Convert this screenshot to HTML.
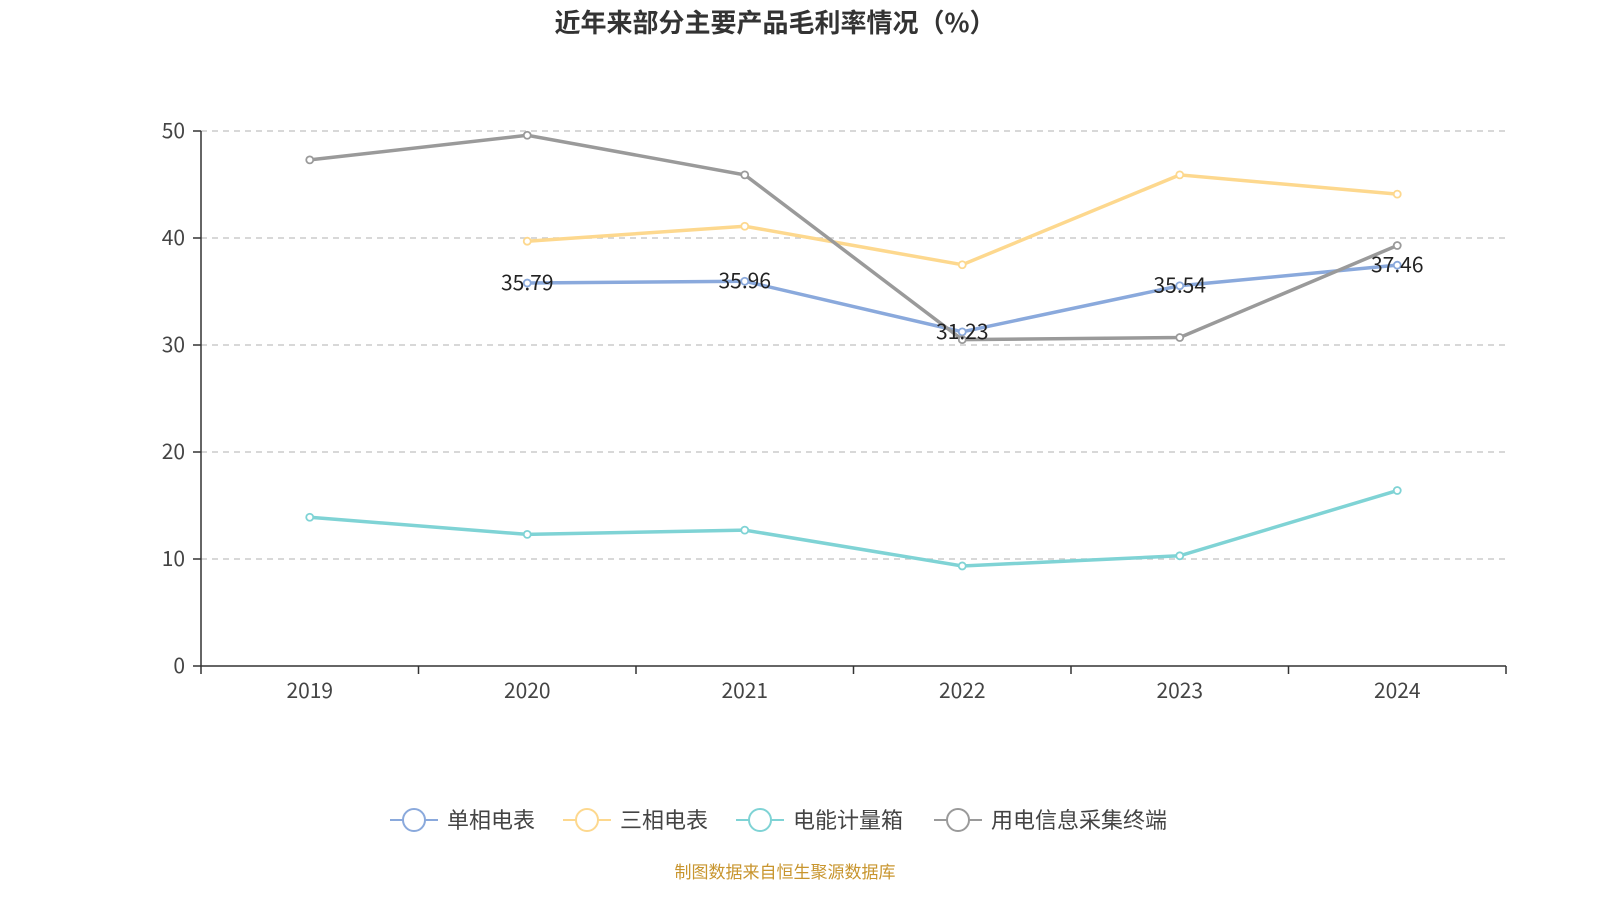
<!DOCTYPE html>
<html><head><meta charset="utf-8"><style>
html,body{margin:0;padding:0;background:#fff;}
svg text{font-family:"Noto Sans CJK SC","Liberation Sans",sans-serif;}
</style></head><body>
<svg width="1600" height="900" viewBox="0 0 1600 900">
<text x="775" y="32" text-anchor="middle" font-size="26" font-weight="bold" fill="#333">近年来部分主要产品毛利率情况（%）</text>
<g id="grid"></g><g id="axes"></g><g id="series"></g><g id="legend"></g>
<text x="785" y="878" text-anchor="middle" font-size="17" fill="#c8952e">制图数据来自恒生聚源数据库</text>
</svg>
<script>
const categories=["2019","2020","2021","2022","2023","2024"];
const yTicks=[0,10,20,30,40,50];
const seriesNames=["单相电表","三相电表","电能计量箱","用电信息采集终端"];
const singlePhase=[null,35.79,35.96,31.23,35.54,37.46];
const threePhase=[null,39.7,41.1,37.5,45.9,44.1];
const meterBox=[13.9,12.3,12.7,9.35,10.3,16.4];
const terminal=[47.3,49.6,45.9,30.5,30.7,39.3];
const colors=["#8aa9dc","#fdd88e","#7fd3d5","#9a9a9a"];
const NS="http://www.w3.org/2000/svg";
const x0=201,x1=1506,yb=666,yt=131;
const bw=(x1-x0)/categories.length;
const X=i=>x0+bw*(i+0.5);
const Y=v=>yb-(v/50)*(yb-yt);
function mk(tag,attrs,parent){const e=document.createElementNS(NS,tag);for(const k in attrs)e.setAttribute(k,attrs[k]);parent.appendChild(e);return e;}
const grid=document.getElementById('grid'),axes=document.getElementById('axes'),ser=document.getElementById('series'),leg=document.getElementById('legend');
yTicks.forEach(t=>{
  if(t>0){const l=mk('line',{x1:x0,x2:x1,y1:Y(t),y2:Y(t),stroke:'#ccc','stroke-dasharray':'6,5','stroke-width':1.5},grid);
  
  }
  const tk=mk('line',{x1:x0-8,x2:x0,y1:Y(t),y2:Y(t),stroke:'#333','stroke-width':1.5},axes);
  
  
  const tx=mk('text',{x:x0-16,y:Y(t)+7,'text-anchor':'end','font-size':21,fill:'#444'},axes);tx.textContent=t;
  
  
});
const ya=mk('line',{x1:x0,x2:x0,y1:yt,y2:yb,stroke:'#333','stroke-width':1.5},axes);


const xa=mk('line',{x1:x0,x2:x1,y1:yb,y2:yb,stroke:'#333','stroke-width':1.5},axes);


for(let i=0;i<=categories.length;i++){const t=mk('line',{x1:x0+bw*i,x2:x0+bw*i,y1:yb,y2:yb+8,stroke:'#333','stroke-width':1.5},axes);
  
  }
categories.forEach((c,i)=>{const t=mk('text',{x:X(i),y:yb+32,'text-anchor':'middle','font-size':21,fill:'#444'},axes);t.textContent=c;
  
  });
const all=[singlePhase,threePhase,meterBox,terminal];
all.forEach((d,s)=>{
  const g=mk('g',{},ser);
  
  
  const pts=[];d.forEach((v,i)=>{if(v!=null)pts.push([X(i),Y(v)]);});
  mk('polyline',{points:pts.map(p=>p.join(',')).join(' '),fill:'none',stroke:colors[s],'stroke-width':3.5},g);
  pts.forEach(p=>{const c=mk('circle',{cx:p[0],cy:p[1],r:3.5,fill:'#fff',stroke:colors[s],'stroke-width':1.8},g);
    
    });
});
singlePhase.forEach((v,i)=>{if(v==null)return;const t=mk('text',{x:X(i),y:Y(v)+7,'text-anchor':'middle','font-size':21,fill:'#222'},ser);t.textContent=v.toFixed(2);
  
  });
const lx=[390,563,736,934];
seriesNames.forEach((n,s)=>{
  const g=mk('g',{},leg);
  
  
  mk('line',{x1:lx[s],x2:lx[s]+48,y1:820,y2:820,stroke:colors[s],'stroke-width':2},g);
  mk('circle',{cx:lx[s]+24,cy:820,r:11,fill:'#fff',stroke:colors[s],'stroke-width':2},g);
  const t=mk('text',{x:lx[s]+57,y:828,'font-size':22,fill:'#444'},g);t.textContent=n;
});
</script>
</body></html>
